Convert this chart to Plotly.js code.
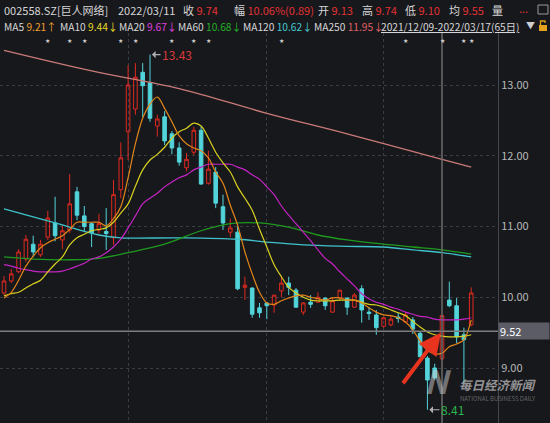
<!DOCTYPE html>
<html><head><meta charset="utf-8">
<script src="https://cdn.plot.ly/plotly-3.0.1.min.js"></script>
<style>html,body{margin:0;padding:0;background:#17181c;}#chart{width:550px;height:423px;}</style>
</head><body><div id="chart"></div>
<script>
// ---- data ----
const dates = ['2021-12-09','2021-12-10','2021-12-13','2021-12-14','2021-12-15','2021-12-16','2021-12-17','2021-12-20','2021-12-21','2021-12-22','2021-12-23','2021-12-24','2021-12-27','2021-12-28','2021-12-29','2021-12-30','2021-12-31',
'2022-01-04','2022-01-05','2022-01-06','2022-01-07','2022-01-10','2022-01-11','2022-01-12','2022-01-13','2022-01-14','2022-01-17','2022-01-18','2022-01-19','2022-01-20','2022-01-21','2022-01-24','2022-01-25','2022-01-26','2022-01-27','2022-01-28',
'2022-02-07','2022-02-08','2022-02-09','2022-02-10','2022-02-11','2022-02-14','2022-02-15','2022-02-16','2022-02-17','2022-02-18','2022-02-21','2022-02-22','2022-02-23','2022-02-24','2022-02-25','2022-02-28',
'2022-03-01','2022-03-02','2022-03-03','2022-03-04','2022-03-07','2022-03-08','2022-03-09','2022-03-10','2022-03-11','2022-03-14','2022-03-15','2022-03-16','2022-03-17'];
const open  = [10.06,10.23,10.36,10.54,10.75,10.60,10.85,11.05,10.81,10.95,11.49,11.15,11.04,10.95,10.93,10.84,11.52,12.34,12.66,13.18,13.03,12.42,12.55,12.31,12.11,11.83,12.05,12.36,11.61,11.77,11.28,10.92,10.92,10.14,10.13,9.85,9.92,9.89,10.09,10.20,10.10,9.79,9.93,9.93,9.99,9.79,9.99,9.99,9.86,10.12,9.79,9.75,9.59,9.61,9.72,9.65,9.68,9.49,9.14,9.00,9.13,9.96,9.88,9.47,9.61];
const high  = [10.30,10.40,10.68,10.88,10.87,10.81,11.22,11.42,11.02,11.74,11.56,11.29,11.06,11.18,11.26,11.66,12.19,13.28,13.31,13.31,13.43,12.58,12.63,12.35,12.19,12.04,12.41,12.41,12.07,11.84,11.45,11.11,11.00,10.29,10.14,9.92,9.93,10.03,10.29,10.29,10.13,9.93,10.03,10.07,9.99,9.99,10.10,9.99,10.06,10.17,9.86,9.82,9.72,9.74,9.78,9.79,9.72,9.51,9.17,9.06,9.74,10.22,9.99,9.57,10.14];
const low   = [10.03,10.20,10.34,10.50,10.57,10.57,10.81,10.79,10.68,10.91,11.09,10.92,10.71,10.90,10.67,10.74,11.40,11.94,12.58,12.55,12.48,12.27,12.15,12.02,11.86,11.78,12.01,11.59,11.59,11.26,10.95,10.85,10.10,9.96,9.71,9.71,9.69,9.78,10.00,10.03,9.85,9.75,9.85,9.92,9.82,9.78,9.96,9.75,9.85,9.64,9.68,9.47,9.57,9.59,9.64,9.64,9.48,9.16,8.41,8.83,9.10,9.86,9.35,8.79,9.59];
const close = [10.23,10.33,10.64,10.82,10.64,10.75,11.12,10.87,10.94,11.32,11.16,11.00,10.91,11.04,10.90,11.45,11.97,13.00,13.11,12.99,12.53,12.52,12.21,12.11,11.91,11.95,12.36,11.60,11.81,11.33,11.05,10.98,10.12,10.17,9.76,9.78,9.88,10.03,10.20,10.14,9.86,9.92,9.90,10.00,9.88,9.95,10.10,9.86,10.03,9.82,9.77,9.57,9.71,9.69,9.70,9.75,9.55,9.16,8.83,8.86,9.74,9.88,9.44,9.40,10.06];
// moving averages
const ma5  = [9.99,10.07,10.24,10.44,10.58,10.70,10.77,10.82,10.87,10.96,11.06,11.06,11.06,11.06,11.01,11.11,11.28,11.69,12.17,12.53,12.73,12.83,12.67,12.48,12.28,12.17,12.11,12.07,11.97,11.77,11.61,11.30,11.02,10.64,10.33,10.07,9.92,9.90,9.95,9.99,10.02,10.03,10.00,9.98,9.96,9.99,9.99,9.96,9.96,9.92,9.85,9.79,9.75,9.74,9.71,9.65,9.54,9.38,9.25,9.20,9.21,9.30,9.34,9.40,9.68];
const ma10 = [10.02,10.05,10.07,10.13,10.19,10.24,10.36,10.47,10.57,10.74,10.84,10.89,10.94,10.96,10.98,11.06,11.19,11.32,11.57,11.80,11.94,12.02,12.12,12.25,12.34,12.39,12.46,12.42,12.25,12.05,11.90,11.77,11.56,11.40,11.23,10.96,10.71,10.46,10.29,10.14,10.06,10.00,9.96,9.95,9.95,9.95,9.96,9.96,9.96,9.93,9.90,9.89,9.86,9.82,9.78,9.74,9.66,9.58,9.51,9.47,9.45,9.44,9.44,9.45,9.47];
const ma20 = [10.46,10.44,10.41,10.39,10.37,10.36,10.36,10.36,10.37,10.40,10.44,10.48,10.54,10.57,10.63,10.71,10.82,10.98,11.15,11.32,11.40,11.47,11.56,11.63,11.69,11.73,11.80,11.84,11.88,11.88,11.88,11.88,11.84,11.80,11.73,11.67,11.56,11.45,11.29,11.16,11.04,10.92,10.80,10.67,10.55,10.47,10.36,10.26,10.16,10.05,9.98,9.93,9.90,9.86,9.83,9.79,9.76,9.73,9.72,9.69,9.68,9.68,9.68,9.69,9.71];
const ma60Idx  = [0,4,9,13,17,22,27,31,35,39,43,47,52,56,60,64];
const ma60     = [10.57,10.54,10.53,10.55,10.63,10.75,10.94,11.04,11.05,10.99,10.88,10.81,10.75,10.71,10.67,10.61];
const ma120Idx = [0,7,13,16,24,32,36,41,47,52,56,60,64];
const ma120    = [11.25,11.05,10.88,10.84,10.84,10.82,10.78,10.74,10.72,10.71,10.67,10.63,10.57];
const ma250Idx = [0,12,24,36,47,60,64];
const ma250    = [13.49,13.20,12.95,12.60,12.31,11.95,11.84];
const starDates = ['2021-12-17','2021-12-22','2021-12-24','2021-12-31','2022-01-05','2022-01-12','2022-01-17','2022-01-19','2022-02-09','2022-03-04','2022-03-11','2022-03-16','2022-03-17'];
const cursorDate = '2022-03-11';
const cursorPrice = 9.52;
const yTicks = [9, 10, 11, 12, 13];
const header1 = {code:'002558.SZ[巨人网络]', date:'2022/03/11', close:'9.74', chg:'10.06%(0.89)', open:'9.13', high:'9.74', low:'9.10', avg:'9.55'};
const maLabels = [['MA5','9.21↑','#f0a030'],['MA10','9.44↓','#e8d828'],['MA20','9.67↓','#e040e0'],['MA60','10.68↓','#25b025'],['MA120','10.62↓','#45c8d2'],['MA250','11.95↓','#e06262']];
const rangeText = '2021/12/09-2022/03/17(65日)';

// ---- layout helpers ----
const H = 423, T = 33, PW = 498, PH = 390;
const px = x => x / PW, py = y => (H - y) / PH;
const idx = dates.map((d, i) => i);
const FONT = '"Noto Sans CJK SC", "Noto Sans", sans-serif';
const monthStarts = idx.filter(i => i > 0 && dates[i].slice(5, 7) !== dates[i - 1].slice(5, 7));
const cursorIdx = dates.indexOf(cursorDate);
const hiIdx = high.indexOf(Math.max(...high));
const loIdx = low.indexOf(Math.min(...low));

const traces = [
  {type:'candlestick', x: idx, open, high, low, close, whiskerwidth:0, hoverinfo:'none', showlegend:false,
   increasing:{line:{color:'#de2a20', width:1}, fillcolor:'rgba(0,0,0,0)'},
   decreasing:{line:{color:'#52d4da', width:1}, fillcolor:'#52d4da'}},
  {type:'scatter', mode:'lines', x: ma250Idx, y: ma250, line:{color:'#c97a78', width:1.3, shape:'spline'}, hoverinfo:'none', showlegend:false},
  {type:'scatter', mode:'lines', x: ma120Idx, y: ma120, line:{color:'#3fc2cb', width:1.3, shape:'spline'}, hoverinfo:'none', showlegend:false},
  {type:'scatter', mode:'lines', x: ma60Idx, y: ma60, line:{color:'#1f9a1f', width:1.3, shape:'spline'}, hoverinfo:'none', showlegend:false},
  {type:'scatter', mode:'lines', x: idx, y: ma20, line:{color:'#c424c4', width:1.2, shape:'spline'}, hoverinfo:'none', showlegend:false},
  {type:'scatter', mode:'lines', x: idx, y: ma10, line:{color:'#d8d020', width:1.2, shape:'spline'}, hoverinfo:'none', showlegend:false},
  {type:'scatter', mode:'lines', x: idx, y: ma5, line:{color:'#e3861a', width:1.2, shape:'spline'}, hoverinfo:'none', showlegend:false}
];

const ann = [];
const txt = (x, y, text, color, size, extra) => ann.push(Object.assign({xref:'paper', yref:'paper', x: px(x), y: py(y), xanchor:'left', yanchor:'middle', showarrow:false, text, font:{family:FONT, size: size || 11, color}}, extra || {}));
const RED = '#e03232', WH = '#d6d6d6';
const sp = (c, t) => '<span style="color:' + c + '">' + t + '</span>';
// header line 1
txt(2, 10, header1.code, WH);
txt(116, 10, header1.date, WH);
txt(181, 10, '收 ' + sp(RED, header1.close), WH);
txt(232, 10, '幅 ' + sp(RED, header1.chg), WH);
txt(316, 10, '开 ' + sp(RED, header1.open), WH);
txt(360, 10, '高 ' + sp(RED, header1.high), WH);
txt(403, 10, '低 ' + sp(RED, header1.low), WH);
txt(447, 10, '均 ' + sp(RED, header1.avg), WH);
txt(490, 10, '量', WH);
txt(517, 8, '...', RED, 11);
// header line 2
const ma2x = [2, 58, 117, 176, 241, 312];
maLabels.forEach((m, k) => txt(ma2x[k], 26, m[0] + ' ' + sp(m[2], m[1]), WH, 10.2));
txt(379, 26, '<u>' + rangeText + '</u>', WH, 10.2);
txt(524, 25, '▼', '#cfcfcf', 9);
// stars
starDates.forEach(d => ann.push({xref:'x', yref:'paper', x: dates.indexOf(d), y: py(35), text:'★', showarrow:false, font:{size:6, color:'#d0d0d0'}}));
// extreme labels
ann.push({x: hiIdx, y: high[hiIdx], text: high[hiIdx].toFixed(2), showarrow:true, ax:27, ay:0, arrowhead:1, arrowsize:1, arrowwidth:1.2, arrowcolor:'#b0b0b0', standoff:2, font:{family:FONT, size:12, color:'#d83a3a'}});
ann.push({x: loIdx, y: low[loIdx], text: low[loIdx].toFixed(2), showarrow:true, ax:25, ay:0, arrowhead:1, arrowsize:1, arrowwidth:1.2, arrowcolor:'#b0b0b0', standoff:2, font:{family:FONT, size:12, color:'#2db34c'}});
// cursor price box
ann.push({xref:'paper', yref:'y', x:1, y: cursorPrice, xanchor:'left', yanchor:'middle', text: cursorPrice.toFixed(2), showarrow:false, bgcolor:'#5b5c66', width:48, height:14, align:'left', borderpad:1, font:{family:FONT, size:11, color:'#ffffff'}});
// watermark
txt(422, 380, '<b><i>N</i></b>', 'rgba(205,205,205,0.5)', 32);
txt(457, 384, '<b><i>每日经济新闻</i></b>', 'rgba(190,190,190,0.75)', 12.5);
txt(458, 398, 'NATIONAL BUSINESS DAILY', 'rgba(170,170,170,0.55)', 6);
// red pointer arrow
ann.push({x: cursorIdx, y: cursorPrice, text:' ', showarrow:true, ax:-42, ay:56, arrowhead:2, arrowsize:1.1, arrowwidth:4, arrowcolor:'#e8341f', standoff:2});

const shapes = [
  {type:'line', xref:'paper', x0:0, x1:1, yref:'y', y0:cursorPrice, y1:cursorPrice, line:{color:'#7d7d7d', width:1.5}},
  {type:'line', xref:'x', x0:cursorIdx, x1:cursorIdx, yref:'paper', y0:0, y1:1, line:{color:'#6c6c6c', width:1.5}},
  // lock icon
  {type:'rect', xref:'paper', yref:'paper', x0:px(539), x1:px(547), y0:py(31), y1:py(25), fillcolor:'#e3a21c', line:{width:0}},
  {type:'path', xref:'paper', yref:'paper', path:'M ' + px(540.5) + ' ' + py(25) + ' L ' + px(540.5) + ' ' + py(21) + ' L ' + px(545) + ' ' + py(21) + ' L ' + px(545) + ' ' + py(23), line:{color:'#e3a21c', width:1.3}},
  // screen icon
  {type:'rect', xref:'paper', yref:'paper', x0:px(538), x1:px(548), y0:py(14), y1:py(5), line:{color:'#9a9a9a', width:1}}
];

const layout = {
  width:550, height:423, margin:{l:0, r:52, t:T, b:0},
  paper_bgcolor:'#17181c', plot_bgcolor:'#17181c', showlegend:false, dragmode:false,
  xaxis:{range:[-0.548, 67.67], tickvals: monthStarts, showticklabels:false, showgrid:true, gridcolor:'#3b3d44', griddash:'dot', gridwidth:1, zeroline:false, showline:false, rangeslider:{visible:false}, fixedrange:true},
  yaxis:{side:'right', range:[8.2226, 13.735], tickvals: yTicks, tickformat:'.2f', showgrid:true, gridcolor:'#3b3d44', griddash:'dot', gridwidth:1, zeroline:false, showline:true, linecolor:'#44464c', linewidth:1, ticks:'', tickfont:{family:FONT, size:11, color:'#b8b8b8'}, fixedrange:true},
  annotations: ann, shapes
};
Plotly.newPlot('chart', traces, layout, {displayModeBar:false, staticPlot:true});
</script></body></html>
